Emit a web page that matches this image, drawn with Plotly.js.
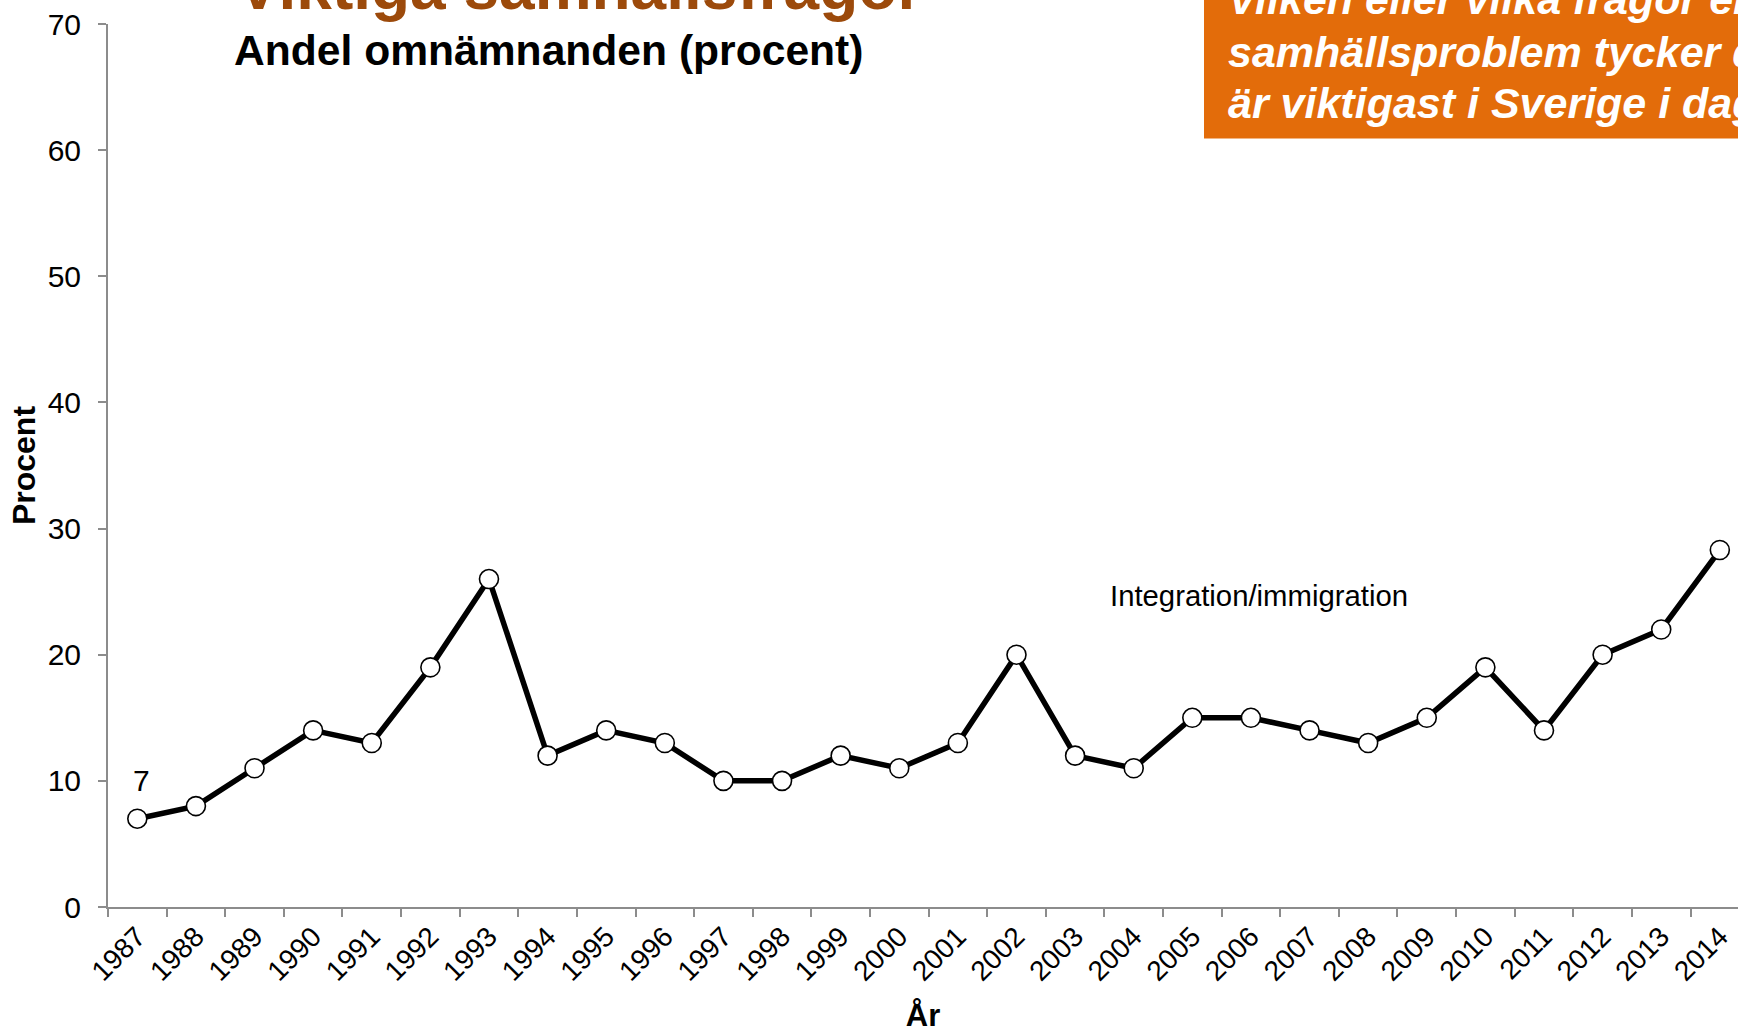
<!DOCTYPE html>
<html>
<head>
<meta charset="utf-8">
<script src="https://cdn.plot.ly/plotly-3.0.1.min.js"></script>
<style>
html,body{margin:0;padding:0;background:#fff;overflow:hidden;}
#chart{width:1738px;height:1033px;}
</style>
</head>
<body>
<div id="chart"></div>
<script>
// ---- data ----
const years = ['1987','1988','1989','1990','1991','1992','1993','1994','1995','1996','1997','1998','1999','2000','2001','2002','2003','2004','2005','2006','2007','2008','2009','2010','2011','2012','2013','2014'];
const values = [7, 8, 11, 14, 13, 19, 26, 12, 14, 13, 10, 10, 12, 11, 13, 20, 12, 11, 15, 15, 14, 13, 15, 19, 14, 20, 22, 28.3];
const seriesName = 'Integration/immigration';
const yTicks = [0, 10, 20, 30, 40, 50, 60, 70];
const titleText = 'Viktiga samhällsfrågor';
const subtitleText = 'Andel omnämnanden (procent)';
const questionLines = ['Vilken eller vilka frågor eller', 'samhällsproblem tycker du', 'är viktigast i Sverige i dag?'];

// ---- layout helpers (pixel -> paper) ----
const W = 1738, H = 1033;
const mL = 108, mR = 0, mT = 24, mB = 126;
const pw = W - mL - mR, ph = H - mT - mB;
const X = px => (px - mL) / pw;
const Y = py => (H - mB - py) / ph;

const FONT = 'Arial, "Liberation Sans", sans-serif';
const AXC = '#8c8c8c';

const trace = {
  x: years,
  y: values,
  type: 'scatter',
  mode: 'lines+markers',
  name: seriesName,
  line: {color: '#000000', width: 5.5},
  marker: {size: 19, color: '#ffffff', line: {color: '#000000', width: 1.6}},
  cliponaxis: false,
  hoverinfo: 'x+y'
};

const annotations = [
  {xref:'paper', yref:'paper', x:X(235), y:Y(-13), xanchor:'left', yanchor:'middle', showarrow:false,
   text:'<b>'+titleText+'</b>', font:{family:FONT, size:64, color:'#9C4A0B'}},
  {xref:'paper', yref:'paper', x:X(232), y:Y(50.3), xanchor:'left', yanchor:'middle', showarrow:false,
   text:'<b>'+subtitleText+'</b>', font:{family:FONT, size:42.6, color:'#000000'}},
  {xref:'paper', yref:'paper', x:X(1259), y:Y(595), xanchor:'center', yanchor:'middle', showarrow:false,
   text:seriesName, font:{family:FONT, size:29.3, color:'#000000'}},
  {xref:'x', yref:'y', x:0, y:values[0], xanchor:'center', yanchor:'middle', showarrow:false,
   xshift:4.4, yshift:38, text:String(values[0]), font:{family:FONT, size:30, color:'#000000'}}
];
const qBase = [14, 67, 118];
questionLines.forEach((t, i) => {
  annotations.push({xref:'paper', yref:'paper', x:X(1226), y:Y(qBase[i] - 0.35*43), xanchor:'left', yanchor:'middle',
    showarrow:false, text:'<b><i>'+t+'</i></b>', font:{family:FONT, size:43, color:'#ffffff'}});
});

const layout = {
  width: W, height: H,
  margin: {l: mL, r: mR, t: mT, b: mB, pad: 0},
  paper_bgcolor: '#ffffff', plot_bgcolor: '#ffffff',
  showlegend: false,
  font: {family: FONT, color: '#000000'},
  xaxis: {
    type: 'category',
    range: [-0.5, 27.31],
    tickson: 'boundaries',
    ticks: 'outside', ticklen: 8, tickwidth: 2, tickcolor: AXC,
    showline: true, linecolor: AXC, linewidth: 2,
    showgrid: false, zeroline: false,
    tickangle: -45,
    tickfont: {family: FONT, size: 28, color: '#000000'},
    automargin: false,
    title: {text: '<b>År</b>', font: {family: FONT, size: 31, color: '#000000'}, standoff: 25}
  },
  yaxis: {
    range: [0, 70],
    tickvals: yTicks,
    ticks: 'outside', ticklen: 8, tickwidth: 2, tickcolor: AXC,
    showline: true, linecolor: AXC, linewidth: 2,
    showgrid: false, zeroline: false,
    tickfont: {family: FONT, size: 30, color: '#000000'},
    ticklabelstandoff: 11,
    automargin: false,
    title: {text: '<b>Procent</b>', font: {family: FONT, size: 32, color: '#000000'}, standoff: 2}
  },
  shapes: [
    {type:'rect', xref:'paper', yref:'paper', x0:X(1204), x1:X(1800), y0:Y(138.5), y1:Y(-30),
     fillcolor:'#E36C0A', line:{width:0}, layer:'above'}
  ],
  annotations: annotations
};

Plotly.newPlot('chart', [trace], layout, {displayModeBar: false, staticPlot: true});
</script>
</body>
</html>
